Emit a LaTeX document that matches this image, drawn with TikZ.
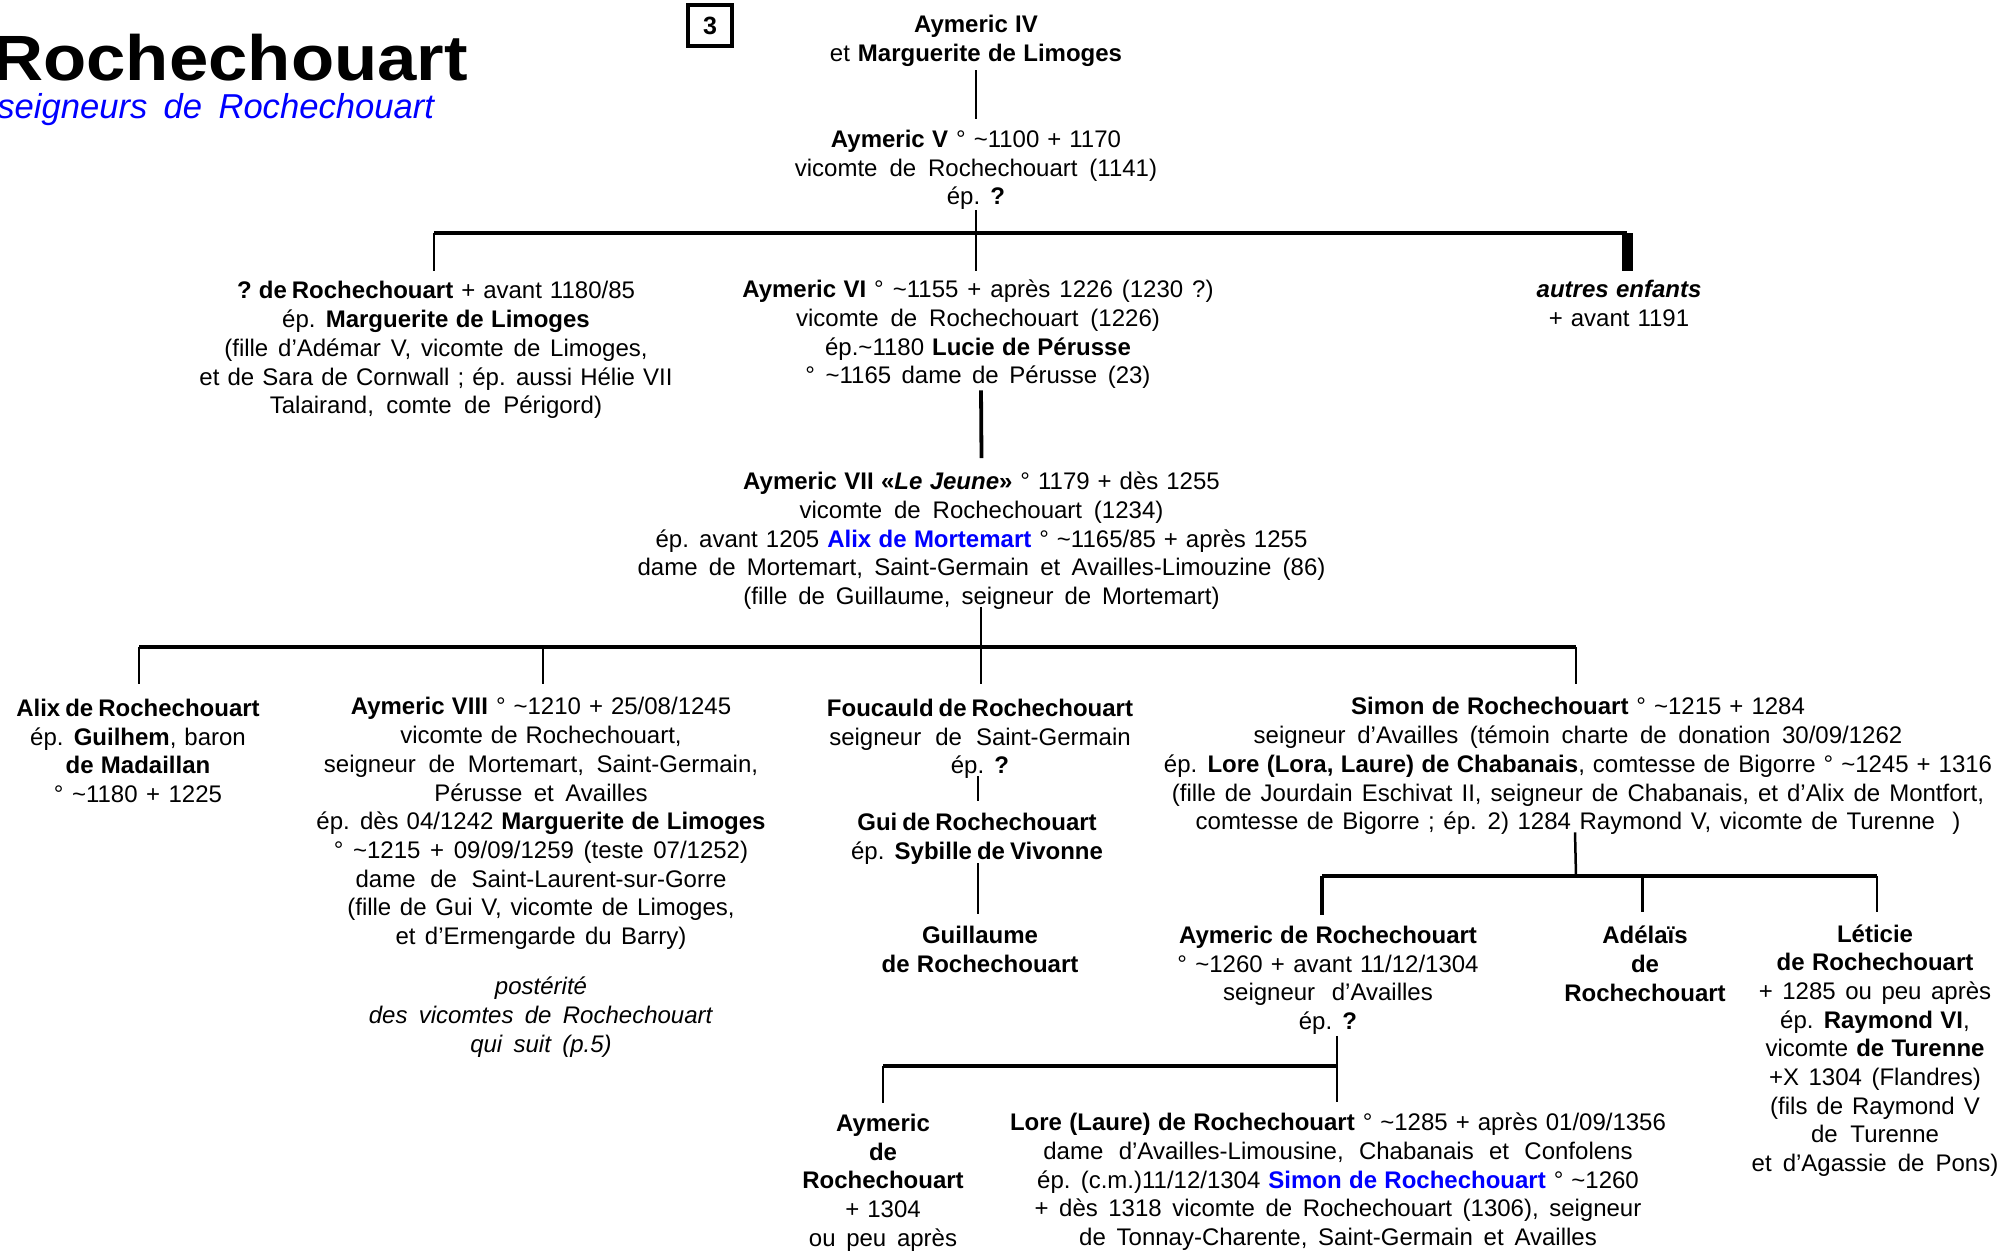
\documentclass[tikz,border=0pt]{standalone}
\usepackage{fontspec}
\setmainfont{Liberation Sans}[WordSpace=1.2,BoldFeatures={WordSpace=1.1},BoldItalicFeatures={WordSpace=1.1}]
\newfontfamily\titlefont{Liberation Sans Bold}[FakeStretch=1.105]
\newfontfamily\subfont{Liberation Sans Italic}[WordSpace=1.7]
\newcommand{\tld}{{\char126}}
\newcommand{\lstrut}{\rule[-4.305pt]{0pt}{14.35pt}}
\newcommand{\tstrut}{\rule[-4.305pt]{0pt}{13.85pt}}
\newcommand{\bb}[1]{\textbf{#1}}
\newcommand{\bt}[1]{{\bfseries\spaceskip=0.75\dimexpr 3.336pt\relax #1}}
\newcommand{\bl}[1]{\textcolor{pureblue}{\textbf{#1}}}
\newcommand{\w}[2][1.7]{{\spaceskip=#1\dimexpr 3.336pt\relax #2}}
\definecolor{pureblue}{RGB}{0,0,255}
\tikzset{
  person/.style={anchor=north,inner sep=0pt,outer sep=0pt,align=center,
    font=\fontsize{12}{14.35}\selectfont,
    execute at begin node=\tstrut,execute at end node=\lstrut},
  link/.style={line width=1.25pt,black},
  bus/.style={line width=1.6pt,black},
  heavy/.style={line width=5.5pt,black},
  stout/.style={line width=1.9pt,black},
}
\begin{document}
\begin{tikzpicture}[x=0.5pt,y=-0.5pt]
\useasboundingbox (0,0) rectangle (2000,1250);
% title
\node[anchor=base west,inner sep=0pt,font=\fontsize{32}{36}\titlefont] (title) at (-8,80) {Rochechouart};
\node[anchor=base west,inner sep=0pt,font=\fontsize{17.3}{20}\subfont,text=pureblue] (sub) at (-3,118) {seigneurs de Rochechouart};
\node[draw,line width=1.6pt,minimum width=22pt,minimum height=20.5pt,inner sep=0pt,font=\fontsize{12.5}{14}\selectfont\bfseries] (page) at (710,25.5) {\raisebox{-1pt}{3}};
% people
\node[person] (iv) at (976,15) {\bb{Aymeric IV}\\et \bb{Marguerite de Limoges}};
\node[person] (v) at (976,130) {\bb{Aymeric V} ° \tld1100 + 1170\\\w[1.79]{vicomte de Rochechouart (1141)}\\ép. \bb{?}};
\node[person] (q) at (436,281.5) {\bt{? de Rochechouart} + avant 1180/85\\ép. \bb{Marguerite de Limoges}\\\w[1.48]{(fille d’Adémar V, vicomte de Limoges,}\\\w[1.22]{et de Sara de Cornwall ; ép. aussi Hélie VII}\\\w[1.87]{Talairand, comte de Périgord)}};
\node[person] (vi) at (978,280) {\bb{Aymeric VI} \w[1.35]{° \tld1155 + après 1226 (1230 ?)}\\\w[1.78]{vicomte de Rochechouart (1226)}\\ép.\tld1180 \bb{Lucie de Pérusse}\\\w[1.57]{° \tld1165 dame de Pérusse (23)}};
\node[person] (autres) at (1619,280) {\textbf{\textit{autres enfants}}\\+ avant 1191};
\node[person] (vii) at (981.5,472) {\bb{Aymeric VII «\textit{Le Jeune}»} ° 1179 + dès 1255\\\w[1.78]{vicomte de Rochechouart (1234)}\\ép. avant 1205 \bl{Alix de Mortemart} ° \tld1165/85 + après 1255\\\w{dame de Mortemart, Saint-Germain et Availles-Limouzine (86)}\\\w[1.64]{(fille de Guillaume, seigneur de Mortemart)}};
\node[person] (alix) at (138,699) {\bt{Alix de Rochechouart}\\ép. \bb{Guilhem}, baron\\\bb{de Madaillan}\\\w[1.27]{° \tld1180 + 1225}};
\node[person] (viii) at (541,697.5) {\bb{Aymeric VIII} ° \tld1210 + 25/08/1245\\\w[1.19]{vicomte de Rochechouart,}\\\w[1.9]{seigneur de Mortemart, Saint-Germain,}\\\w[1.72]{Pérusse et Availles}\\ép. dès 04/1242 \bb{Marguerite de Limoges}\\\w[1.45]{° \tld1215 + 09/09/1259 (teste 07/1252)}\\\w[2.2]{dame de Saint-Laurent-sur-Gorre}\\\w[1.3]{(fille de Gui V, vicomte de Limoges,}\\\w[1.4]{et d’Ermengarde du Barry)}};
\node[person] (post) at (541,977) {\textit{postérité}\\\w{\textit{des vicomtes de Rochechouart}}\\\w{\textit{qui suit (p.5)}}};
\node[person] (fou) at (980,699) {\bt{Foucauld de Rochechouart}\\\w[2.1]{seigneur de Saint-Germain}\\ép. \bb{?}};
\node[person] (gui) at (977,813) {\bt{Gui de Rochechouart}\\ép. \bt{Sybille de Vivonne}};
\node[person] (guil) at (980,926) {\bb{Guillaume}\\\bb{de Rochechouart}};
\node[person] (simon) at (1578,697.5) {\bb{Simon de Rochechouart} ° \tld1215 + 1284\\\w[1.75]{seigneur d’Availles (témoin charte de donation 30/09/1262}\\ép. \bb{Lore (Lora, Laure) de Chabanais}, comtesse de Bigorre ° \tld1245 + 1316\\\w[1.36]{(fille de Jourdain Eschivat II, seigneur de Chabanais, et d’Alix de Montfort,}\\\w[1.29]{comtesse de Bigorre ; ép. 2) 1284 Raymond V, vicomte de Turenne\ \ )}};
\node[person] (aym) at (1328,926) {\bb{Aymeric de Rochechouart}\\\w[1.24]{° \tld1260 + avant 11/12/1304}\\\w[2.5]{seigneur d’Availles}\\ép. \bb{?}};
\node[person] (ade) at (1645,926) {\bb{Adélaïs}\\\bb{de}\\\bb{Rochechouart}};
\node[person] (let) at (1875,924.4) {\bb{Léticie}\\\bb{de Rochechouart}\\\w[1.43]{+ 1285 ou peu après}\\ép. \bb{Raymond VI},\\vicomte \bb{de Turenne}\\\w[1.43]{+X 1304 (Flandres)}\\\w[1.34]{(fils de Raymond V}\\\w[1.9]{de Turenne}\\\w[1.66]{et d’Agassie de Pons)}};
\node[person] (aymb) at (883,1114) {\bb{Aymeric}\\\bb{de}\\\bb{Rochechouart}\\+ 1304\\\w[1.6]{ou peu après}};
\node[person] (lore) at (1338,1113) {\bb{Lore (Laure) de Rochechouart} ° \tld1285 + après 01/09/1356\\\w[2.3]{dame d’Availles-Limousine, Chabanais et Confolens}\\ép. (c.m.)11/12/1304 \bl{Simon de Rochechouart} ° \tld1260\\\w[1.58]{+ dès 1318 vicomte de Rochechouart (1306), seigneur}\\\w[1.62]{de Tonnay-Charente, Saint-Germain et Availles}};
% junctions
\coordinate (b1l) at (434,233);
\coordinate (b1r) at (1627,233);
\coordinate (b2l) at (139,647);
\coordinate (b2a) at (543,647);
\coordinate (b2c) at (981,647);
\coordinate (b2r) at (1576,647);
\coordinate (b3l) at (1322,876);
\coordinate (b3t) at (1576,876);
\coordinate (b3a) at (1642.5,876);
\coordinate (b3r) at (1877,876);
\coordinate (b4l) at (883,1066);
\coordinate (b4r) at (1337,1066);
% connectors
\draw[link] ([shift={(0,.6)}]iv.south) -- ([shift={(0,-11)}]v.north);
\draw[bus] (b1l) -- (b1r);
\draw[link] (b1l) -- ([shift={(-2,-10.5)}]q.north);
\draw[link] ([shift={(0,-3)}]v.south) -- ([shift={(-2,-9)}]vi.north);
\draw[heavy] (b1r) -- ([shift={(8,-9)}]autres.north);
\draw[stout] ([shift={(3,-2)}]vi.south) -- ([shift={(0,-14)}]vii.north);
\draw[bus] (b2l) -- (b2r);
\draw[link] ([shift={(-.5,-6.5)}]vii.south) -- (b2c);
\draw[link] (b2c) -- ([shift={(1,-15)}]fou.north);
\draw[link] (b2l) -- ([shift={(1,-15)}]alix.north);
\draw[link] (b2a) -- ([shift={(2,-13.5)}]viii.north);
\draw[link] (b2r) -- ([shift={(-2,-13.5)}]simon.north);
\draw[link] ([shift={(-2,-6)}]fou.south) -- ([shift={(1,-12)}]gui.north);
\draw[link] ([shift={(1,-4.4)}]gui.south) -- ([shift={(-2,-12)}]guil.north);
\draw[link] ([shift={(-3,-6)}]simon.south) -- (b3t);
\draw[bus] (b3l) -- (b3r);
\draw[stout] (b3l) -- ([shift={(-6,-11)}]aym.north);
\draw[link] (b3a) -- ([shift={(-2.5,-14)}]ade.north);
\draw[link] (b3r) -- ([shift={(2,-12.4)}]let.north);
\draw[link] ([shift={(9,-2.3)}]aym.south) -- ([shift={(-1,-11)}]lore.north);
\draw[bus] (b4l) -- (b4r);
\draw[link] (b4l) -- ([shift={(0,-11)}]aymb.north);
\end{tikzpicture}
\end{document}
